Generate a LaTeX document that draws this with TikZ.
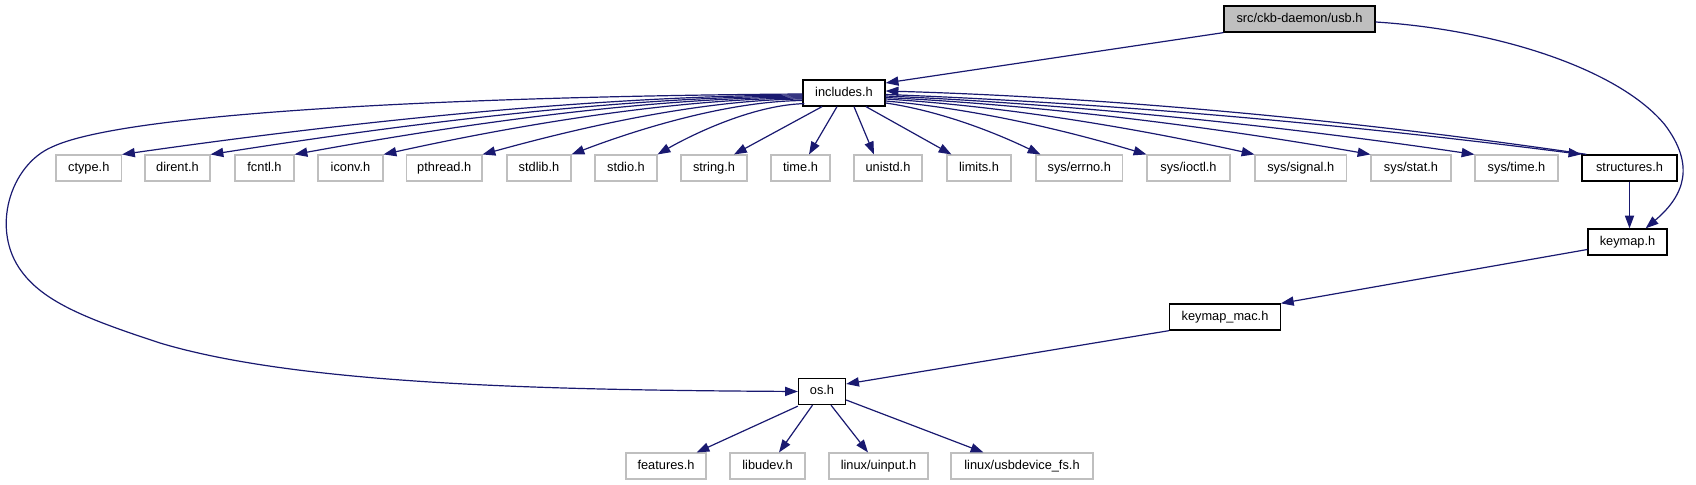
\documentclass[tikz,border=0pt]{standalone}
\usepackage{fontspec}
\setmainfont{Liberation Sans}
\usetikzlibrary{arrows.meta,calc}
\definecolor{edgecol}{HTML}{191970}
\definecolor{graybd}{HTML}{BFBFBF}
\tikzset{
  box/.style={draw=black, fill=white, line width=0.65pt, minimum height=13pt, inner sep=0pt,
    font=\fontsize{6.4pt}{7pt}\selectfont, text height=4.6pt, text depth=1.3pt},
  gbox/.style={box, draw=graybd, line width=0.55pt},
  rootbox/.style={box, fill=graybd},
  wd/.style={minimum width=#1*0.5pt},
  edge/.style={draw=edgecol, line width=0.6pt, -{Triangle[length=6.4pt,width=4.6pt]}}
}
\begin{document}
\begin{tikzpicture}[x=0.5pt,y=-0.5pt]
\useasboundingbox (0,0) rectangle (1696,485);
% nodes
\node[rootbox,wd=151] (usb) at (1299.5,19) {src/ckb-daemon/usb.h};
\node[box,wd=82] (inc) at (844,93) {includes.h};
\node[gbox,wd=65.5] (ctype) at (88.75,168) {ctype.h};
\node[gbox,wd=65] (dirent) at (177.5,168) {dirent.h};
\node[gbox,wd=59] (fcntl) at (264.5,168) {fcntl.h};
\node[gbox,wd=65] (iconv) at (350.5,168) {iconv.h};
\node[gbox,wd=75.5] (pthread) at (444.25,168) {pthread.h};
\node[gbox,wd=64] (stdlib) at (539,168) {stdlib.h};
\node[gbox,wd=62] (stdio) at (626,168) {stdio.h};
\node[gbox,wd=66] (string) at (714,168) {string.h};
\node[gbox,wd=59] (time) at (800.5,168) {time.h};
\node[gbox,wd=68] (unistd) at (888,168) {unistd.h};
\node[gbox,wd=64] (limits) at (979,168) {limits.h};
\node[gbox,wd=86.5] (errno) at (1079.25,168) {sys/errno.h};
\node[gbox,wd=83] (ioctl) at (1188.5,168) {sys/ioctl.h};
\node[gbox,wd=91.5] (signal) at (1300.75,168) {sys/signal.h};
\node[gbox,wd=80] (stat) at (1411,168) {sys/stat.h};
\node[gbox,wd=83] (systime) at (1516.5,168) {sys/time.h};
\node[box,wd=95] (struct) at (1629.5,168) {structures.h};
\node[box,wd=79] (keymap) at (1627.5,242) {keymap.h};
\node[box,wd=110.5] (kmac) at (1225,317) {keymap\_mac.h};
\node[box,wd=47] (os) at (822,391.5) {os.h};
\node[gbox,wd=80] (features) at (666,466) {features.h};
\node[gbox,wd=75] (libudev) at (767.5,466) {libudev.h};
\node[gbox,wd=99] (uinput) at (878.5,466) {linux/uinput.h};
\node[gbox,wd=142] (usbdev) at (1022,466) {linux/usbdevice\_fs.h};
% edges from usb.h
\draw[edge] (usb.south west) -- ($(inc.east)+(0,-10)$);
\draw[edge] ($(usb.east)+(0,3)$) .. controls (1500,30) and (1620,70) .. (1665,125)
   .. controls (1695,165) and (1685,195) .. ($(keymap.north east)+(-22,0)$);
% includes.h -> os.h
\draw[edge] ($(inc.west)+(0,1)$) .. controls (500,96) and (130,110) .. (52,147)
   .. controls (10,165) and (-10,230) .. (22,272)
   .. controls (45,303) and (90,320) .. (160,343)
   .. controls (300,385) and (550,390) .. (os.west);
% includes.h -> left fan
\draw[edge] ($(inc.west)+(0,2)$) .. controls (551,96) and (258,135) .. (ctype.north east);
\draw[edge] ($(inc.west)+(0,3)$) .. controls (584,97) and (329,136) .. (dirent.north east);
\draw[edge] ($(inc.west)+(0,4)$) .. controls (615,98) and (396,136) .. (fcntl.north east);
\draw[edge] ($(inc.west)+(0,5)$) .. controls (648,99) and (467,136) .. (iconv.north east);
\draw[edge] ($(inc.west)+(0,6)$) .. controls (684,100) and (546,137) .. (pthread.north east);
\draw[edge] ($(inc.west)+(0,7.5)$) .. controls (717,101.5) and (617,137) .. (stdlib.north east);
\draw[edge] ($(inc.south west)+(2,-3)$) .. controls (750,105) and (686,138) .. (stdio.north east);
% includes.h -> straight ones
\draw[edge] ($(inc.south)+(-22,0)$) -- ($(string.north)+(20,0)$);
\draw[edge] ($(inc.south)+(-7,0)$) -- ($(time.north)+(8.5,0)$);
\draw[edge] ($(inc.south)+(10,0)$) -- ($(unistd.north)+(-14,0)$);
\draw[edge] ($(inc.south)+(22,0)$) -- ($(limits.north west)+(5,0)$);
% includes.h -> right fan
\draw[edge] ($(inc.east)+(0,10)$) .. controls (940,111) and (994,132) .. ($(errno.north west)+(5,0)$);
\draw[edge] ($(inc.east)+(0,8)$) .. controls (977,109) and (1068,131) .. (ioctl.north west);
\draw[edge] ($(inc.east)+(0,6)$) .. controls (1014,107) and (1144,130) .. (signal.north west);
\draw[edge] ($(inc.east)+(0,4.5)$) .. controls (1055,106) and (1225,129) .. (stat.north west);
\draw[edge] ($(inc.east)+(0,3)$) .. controls (1091,105) and (1298,128.5) .. (systime.north west);
\draw[edge] ($(inc.east)+(0,1.5)$) .. controls (1129,103.6) and (1373,127.8) .. (struct.north west);
\draw[edge] ($(struct.north west)+(5,0)$) .. controls (1380,124) and (1130,98) .. ($(inc.east)+(0,-2)$);
% structures.h -> keymap.h
\draw[edge] (struct.south) -- (struct.south |- keymap.north);
% keymap.h -> keymap_mac.h
\draw[edge] ($(keymap.west)+(0,7.5)$) -- (kmac.north east);
% keymap_mac.h -> os.h
\draw[edge] (kmac.south west) -- ($(os.east)+(0,-7.5)$);
% os.h -> bottom row
\draw[edge] ($(os.south west)+(0,1)$) -- ($(features.north east)+(-10,0)$);
\draw[edge] ($(os.south)+(-9.5,0)$) -- ($(libudev.north)+(11.5,0)$);
\draw[edge] ($(os.south)+(9,0)$) -- ($(uinput.north)+(-10.5,0)$);
\draw[edge] ($(os.east)+(0,8.5)$) -- ($(usbdev.north west)+(33,0)$);
\end{tikzpicture}
\end{document}
